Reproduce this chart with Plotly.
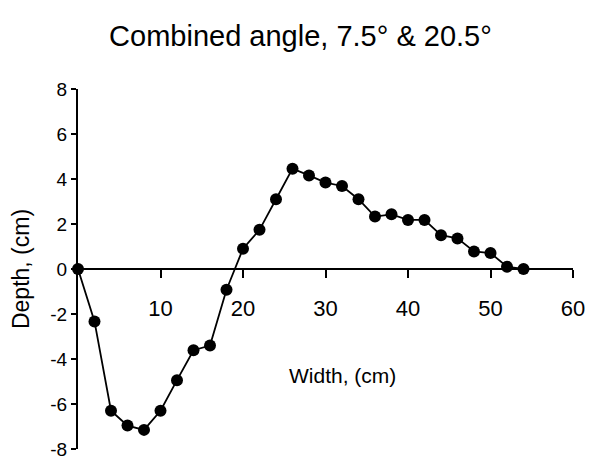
import plotly.graph_objects as go

width_cm = [0, 2, 4, 6, 8, 10, 12, 14, 16, 18, 20, 22, 24, 26, 28, 30, 32, 34, 36, 38, 40, 42, 44, 46, 48, 50, 52, 54]
depth_cm = [0, -2.33, -6.3, -6.96, -7.15, -6.3, -4.94, -3.61, -3.4, -0.92, 0.9, 1.74, 3.1, 4.46, 4.16, 3.84, 3.69,
            3.1, 2.33, 2.43, 2.18, 2.18, 1.5, 1.36, 0.78, 0.71, 0.1, 0.0]

x_ticks = [10, 20, 30, 40, 50, 60]
y_ticks = [8, 6, 4, 2, 0, -2, -4, -6, -8]

FONT = "Liberation Sans, Arial, sans-serif"

fig = go.Figure()
fig.add_trace(go.Scatter(
    x=width_cm, y=depth_cm, mode="lines+markers",
    line=dict(color="black", width=1.8),
    marker=dict(color="black", size=12, symbol="circle"),
    cliponaxis=False, showlegend=False,
))

fig.add_annotation(x=32, y=-4.73, xref="x", yref="y", text="Width, (cm)", showarrow=False,
                   font=dict(family=FONT, size=21, color="black"))

fig.update_layout(
    width=595, height=461,
    margin=dict(l=78, r=22, t=89, b=12, autoexpand=False),
    paper_bgcolor="white", plot_bgcolor="white",
    title=dict(text="Combined angle, 7.5° & 20.5°", x=0.505, xanchor="center", y=0.922, yanchor="middle",
               font=dict(family=FONT, size=29, color="black")),
    xaxis=dict(range=[0, 60], tickvals=x_ticks, ticktext=[str(v) for v in x_ticks],
               anchor="free", position=0.5, showline=True, linecolor="black", linewidth=2,
               ticks="outside", ticklen=8, tickwidth=1.5, tickcolor="black",
               ticklabelstandoff=12, showgrid=False, zeroline=False, automargin=False,
               tickfont=dict(family=FONT, size=22, color="black")),
    yaxis=dict(range=[-8, 8], tickvals=y_ticks, ticktext=[str(v) for v in y_ticks],
               showline=True, linecolor="black", linewidth=2,
               ticks="outside", ticklen=5, tickwidth=1.5, tickcolor="black",
               showgrid=False, zeroline=False, ticklabeloverflow="allow", automargin=False,
               title=dict(text="Depth, (cm)", standoff=14,
                          font=dict(family=FONT, size=23, color="black")),
               tickfont=dict(family=FONT, size=19, color="black")),
)

fig.write_html("out.html")
